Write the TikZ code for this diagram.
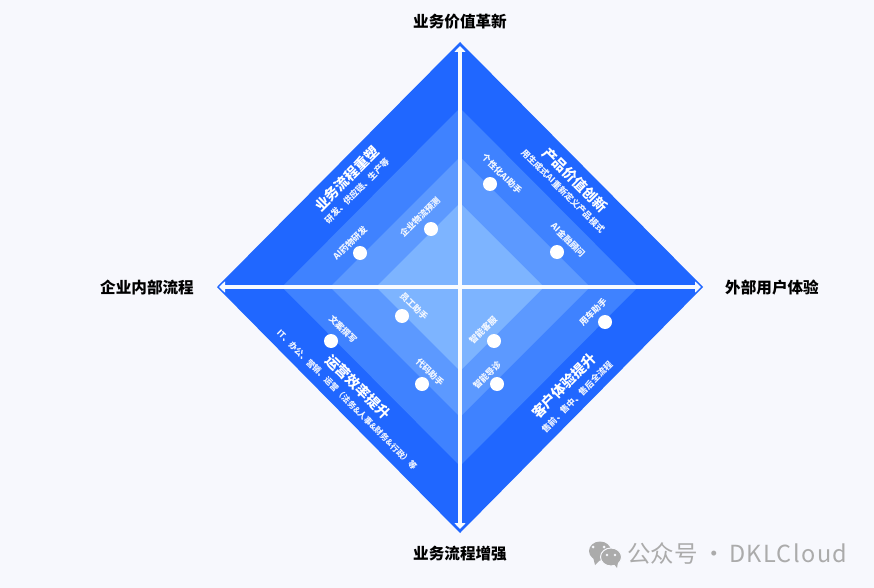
\documentclass[tikz,border=0pt]{standalone}
\usepackage{fontspec}
\setmainfont{Noto Sans CJK SC}
\usetikzlibrary{arrows.meta}
\definecolor{pagebg}{HTML}{F7F8FD}
\definecolor{layera}{HTML}{2067FF}
\definecolor{layerb}{HTML}{3F82FF}
\definecolor{layerc}{HTML}{5C99FF}
\definecolor{layerd}{HTML}{7DB4FF}
\definecolor{markgray}{HTML}{ABABAB}

\begin{document}
\begin{tikzpicture}[
    x=1pt, y=-1pt,
    >={Triangle[length=6pt,width=11pt]},
    every node/.style={inner sep=0pt, align=center, text=white},
    axislabel/.style={font=\fontsize{15.6}{18}\selectfont\bfseries, text=black},
    titlelabel/.style={font=\fontsize{14}{18}\selectfont\bfseries},
    sublabel/.style={font=\fontsize{8.7}{11}\selectfont\bfseries, text=white!92!layera},
    itemlabel/.style={font=\fontsize{8.7}{11}\selectfont\bfseries, text=white!92!layerc},
    marklabel/.style={font=\fontsize{23.5}{26}\selectfont, text=markgray, anchor=base west},
    dot/.style={circle, fill=white, minimum size=14pt},
    axis/.style={draw=white!95!layerd, line width=3.6pt}
]
\useasboundingbox (0,0) rectangle (874,588);
\fill[pagebg] (0,0) rectangle (874,588);

\coordinate (axtop) at (460,46);
\coordinate (axbottom) at (460,529);
\coordinate (axleft) at (219,287);
\coordinate (axright) at (701,287);

\fill[layera] (460,42) -- (703,287) -- (460,533) -- (217,287) -- cycle;
\fill[layerb] (460,108) -- (638,287) -- (460,466) -- (282,287) -- cycle;
\fill[layerc] (460,157) -- (590,287) -- (460,417) -- (330,287) -- cycle;
\fill[layerd] (460,203) -- (544,287) -- (460,371) -- (376,287) -- cycle;

\draw[axis, <->] (axtop) -- (axbottom);
\draw[axis, <->] (axleft) -- (axright);

\node[axislabel] (valuelabel) at (460,22) {业务价值革新};
\node[axislabel] (innerlabel) at (147,288) {企业内部流程};
\node[axislabel] (outerlabel) at (772,288) {外部用户体验};
\node[axislabel] (flowlabel) at (460,554) {业务流程增强};

\node[titlelabel, rotate=45] (redesign) at (347,179) {业务流程重塑};
\node[sublabel, rotate=45] (redesignsub) at (357,191) {研发、供应链、生产等};
\node[titlelabel, rotate=-45] (product) at (575,180) {产品价值创新};
\node[sublabel, rotate=-45] (productsub) at (563,191) {用生成式AI重新定义产品模式};
\node[titlelabel, rotate=-45] (operate) at (358,387) {运营效率提升};
\node[sublabel, rotate=-45, font=\fontsize{8.3}{11}\selectfont\bfseries] (operatesub) at (347,400) {IT、办公、营销、运营（法务\&人事\&财务\&行政）等};
\node[titlelabel, rotate=45] (customer) at (564,386) {客户体验提升};
\node[sublabel, rotate=45] (customersub) at (577,397) {售前、售中、售后全流程};

\node[dot] (drug) at (360,253) {};
\node[dot] (logistics) at (431,229) {};
\node[dot] (persona) at (490,184) {};
\node[dot] (finance) at (557,252) {};
\node[dot] (staff) at (402,316) {};
\node[dot] (copy) at (331,341) {};
\node[dot] (code) at (422,384) {};
\node[dot] (service) at (494,341) {};
\node[dot] (triage) at (497,384) {};
\node[dot] (car) at (605,322) {};

\node[itemlabel, rotate=45] (druglabel) at (350,243) {AI药物研发};
\node[itemlabel, rotate=45] (logisticslabel) at (420,217) {企业物流预测};
\node[itemlabel, rotate=-45] (personalabel) at (502,174) {个性化AI助手};
\node[itemlabel, rotate=-45] (financelabel) at (568,240) {AI金融顾问};
\node[itemlabel, rotate=-45] (stafflabel) at (414,306) {员工助手};
\node[itemlabel, rotate=-45] (copylabel) at (343,329) {文案撰写};
\node[itemlabel, rotate=-45] (codelabel) at (430,372) {代码助手};
\node[itemlabel, rotate=45] (servicelabel) at (483,330) {智能客服};
\node[itemlabel, rotate=45] (triagelabel) at (487,375) {智能导诊};
\node[itemlabel, rotate=45] (carlabel) at (593,312) {用车助手};

\fill[markgray] (600,551) ellipse (11 and 9.5);
\fill[markgray] (593,557) -- (595,565) -- (601,559) -- cycle;
\fill[pagebg] (593,547) circle (1.5) (604,547) circle (1.5);
\fill[markgray, draw=pagebg, line width=1pt] (611,557) ellipse (10.5 and 9);
\fill[markgray] (614,564) -- (617,568) -- (618,562) -- cycle;
\fill[pagebg] (607,555) circle (1.3) (615,555) circle (1.3);
\node[marklabel] (markcn) at (627,562) {公众号};
\node[marklabel] (markdot) at (702,562) {·};
\node[marklabel] (markname) at (729,562) {\addfontfeature{LetterSpace=6}DKLCloud};
\end{tikzpicture}
\end{document}
